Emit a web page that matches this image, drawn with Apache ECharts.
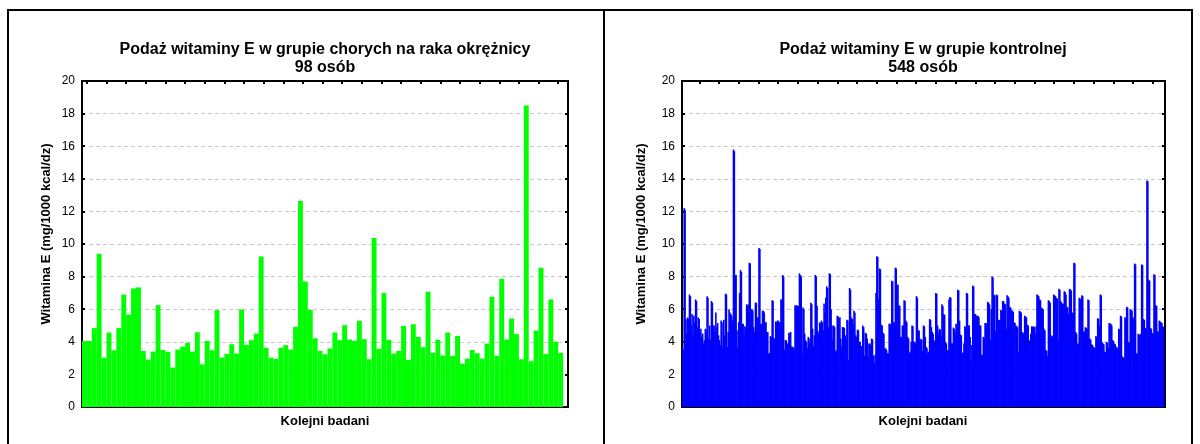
<!DOCTYPE html>
<html>
<head>
<meta charset="utf-8">
<script src="https://cdn.jsdelivr.net/npm/echarts/dist/echarts.min.js"></script>
<style>
  html, body { margin: 0; padding: 0; background: #fff; }
  #main { width: 1200px; height: 444px; }
</style>
</head>
<body>
<div id="main"></div>
<script>
// ---------- DATA ----------
const leftTitle = 'Podaż witaminy E w grupie chorych na raka okrężnicy';
const leftSubtitle = '98 osób';
const rightTitle = 'Podaż witaminy E w grupie kontrolnej';
const rightSubtitle = '548 osób';
const yAxisName = 'Witamina E (mg/1000 kcal/dz)';
const xAxisName = 'Kolejni badani';
const yTicks = [0, 2, 4, 6, 8, 10, 12, 14, 16, 18, 20];

// Cancer group (98 subjects)
const leftValues = [
  4.05,4.05,4.84,9.4,3.03,4.57,3.48,4.84,6.9,5.68,7.27,7.34,3.44,2.91,3.4,6.25,3.5,3.38,2.42,3.52,
  3.7,3.93,3.4,4.59,2.62,4.06,3.48,5.94,3.03,3.26,3.85,3.28,5.98,3.81,4.1,4.5,9.24,3.63,3.03,2.95,
  3.63,3.79,3.52,4.92,12.64,7.7,5.96,4.22,3.44,3.24,3.59,4.57,4.1,5.02,4.14,4.06,5.29,4.16,2.93,10.37,
  3.57,6.99,4.12,3.28,3.44,4.98,2.89,5.08,4.3,3.67,7.07,3.32,4.12,3.16,4.57,3.14,4.36,2.66,2.97,3.5,
  3.3,2.97,3.89,6.76,3.14,7.87,4.14,5.43,4.47,2.93,18.5,2.81,4.69,8.55,3.26,6.6,4.0,3.32
];

// Control group (548 subjects)
const rightValues = [
  3.6,3.5,12.2,12.1,5.4,4.5,5.5,5.4,6.9,6.8,
  5.0,5.7,4.4,5.6,5.2,6.6,6.5,4.9,5.5,5.4,
  4.6,4.8,4.3,4.5,3.9,4.1,4.8,4.7,6.8,6.7,
  4.2,5.0,4.1,6.5,6.4,5.0,5.0,4.6,5.8,4.9,
  5.15,4.4,4.1,3.8,5.3,5.2,3.7,5.35,4.4,6.95,
  6.9,3.7,4.6,6.0,5.8,5.7,5.6,5.3,15.8,15.7,
  8.1,8.1,4.7,3.6,5.2,7.0,8.4,8.3,5.1,5.1,
  4.5,4.95,4.9,6.3,6.2,6.3,8.85,8.8,6.0,6.0,
  5.9,4.9,4.6,6.4,6.4,5.5,5.5,9.75,9.7,5.1,
  5.1,5.9,5.9,5.8,5.2,5.2,4.6,4.6,3.3,3.3,
  4.35,4.3,6.55,6.5,4.2,4.2,5.25,5.2,5.3,5.3,
  5.2,5.2,6.6,6.6,8.1,8.0,3.5,4.1,4.1,3.9,
  3.9,4.55,4.5,4.6,3.7,3.7,3.65,3.6,6.25,6.2,
  6.25,6.2,6.2,8.2,8.1,8.0,3.3,6.1,6.0,4.5,
  4.1,4.0,3.6,4.3,4.2,3.9,6.4,6.3,4.8,3.75,
  4.4,8.1,8.0,6.2,4.65,4.5,5.2,5.1,5.3,5.2,
  4.7,6.35,5.8,6.7,7.4,7.3,4.9,8.2,8.15,6.0,
  5.0,4.1,5.0,4.9,3.4,3.5,5.6,5.55,5.4,5.5,
  4.2,3.7,4.9,4.9,4.85,4.4,4.2,5.35,5.3,2.9,
  7.3,7.2,5.5,5.4,5.1,5.9,5.8,4.4,4.3,4.75,
  4.7,4.0,4.0,3.75,3.75,5.0,4.9,3.15,4.55,4.5,
  4.2,3.05,3.9,3.9,3.8,4.2,4.15,3.15,2.7,3.2,
  7.0,9.25,9.2,6.6,8.5,8.45,5.05,5.0,4.55,4.5,
  3.6,3.6,3.5,3.3,3.3,5.1,5.1,5.0,7.75,7.7,
  5.2,5.2,8.55,8.5,7.5,7.5,6.25,6.2,4.3,4.3,
  5.0,5.0,6.55,6.5,5.3,5.2,4.3,4.2,3.3,3.4,
  4.0,5.0,4.95,4.0,4.0,3.9,6.8,6.7,4.7,4.7,
  4.2,4.1,4.15,3.45,5.0,4.95,4.3,3.7,3.6,3.3,
  3.4,5.4,5.35,4.9,4.6,4.5,4.1,4.0,7.0,6.95,
  5.0,4.55,4.8,4.75,4.3,6.3,6.2,5.7,5.65,4.0,
  3.9,3.45,3.5,6.6,6.75,6.7,3.9,3.9,4.87,4.8,
  4.6,5.1,5.0,7.2,7.15,5.3,4.45,4.4,3.3,3.35,
  3.9,4.95,4.9,7.0,6.95,5.0,5.0,4.3,2.85,3.8,
  7.45,7.4,5.7,5.7,5.6,5.6,5.6,5.5,5.0,5.0,
  3.2,3.2,4.3,4.25,5.15,5.15,5.1,6.45,6.4,6.3,
  4.1,6.0,8.0,7.95,6.9,6.85,4.65,6.9,6.85,5.35,
  5.3,5.35,5.95,5.9,6.5,6.5,6.35,6.3,4.8,6.85,
  6.8,6.7,6.15,6.1,5.95,5.9,5.85,5.2,5.15,5.0,
  4.95,4.9,3.4,5.9,5.85,5.8,4.6,4.55,4.5,5.6,
  5.55,5.5,5.05,5.0,4.1,4.05,4.5,4.95,4.9,4.95,
  4.9,4.5,4.95,6.9,6.85,6.8,6.6,6.55,6.1,6.05,
  6.0,4.8,4.7,3.5,3.45,3.15,6.55,6.5,6.4,4.4,
  4.35,4.3,6.9,6.85,6.8,6.7,6.65,4.1,7.25,7.2,
  6.5,6.4,6.35,6.3,7.1,7.05,6.9,6.15,6.1,5.7,
  7.25,7.2,7.15,5.8,5.75,8.85,8.8,4.6,4.5,3.9,
  3.85,6.7,6.65,6.6,6.85,6.8,4.65,4.6,4.9,4.85,
  4.8,6.6,6.55,4.2,4.15,3.85,3.8,3.7,3.65,3.6,
  4.35,4.3,5.45,5.4,5.0,6.9,6.85,3.95,3.9,3.85,
  3.4,3.35,4.0,3.95,3.6,5.15,5.1,5.1,5.0,4.1,
  4.05,3.9,3.85,3.7,3.65,3.6,4.8,4.75,5.6,5.55,
  3.1,3.05,3.0,5.5,5.45,6.15,6.1,4.0,3.95,6.0,
  5.95,5.9,5.5,5.45,8.8,8.75,3.3,3.25,4.5,4.45,
  4.4,4.5,8.75,8.7,5.4,5.35,4.85,4.8,13.9,13.85,
  7.8,7.75,4.85,4.8,4.55,4.5,8.15,8.1,6.25,6.2,
  4.65,4.6,5.3,5.25,5.2,5.15,4.95,4.9
];

// category slots (one spare slot at the end of each axis, as in the original)
const leftCategories = leftValues.map((v, i) => String(i + 1)).concat(['']);
const rightCategories = rightValues.map((v, i) => String(i + 1)).concat(['']);
// top frame tick slots
const leftTopSlots = leftCategories.slice();
const rightTopSlots = Array.from({length: 196}, (_, i) => String(i));

// ---------- CHART ----------
const FONT = 'Arial, "Liberation Sans", sans-serif';
const chart = echarts.init(document.getElementById('main'), null, {renderer: 'canvas'});

const G = [
  {left: 82, top: 81, width: 486, height: 326},
  {left: 682, top: 81, width: 483, height: 326}
];

function yPair(gi) {
  const base = {
    gridIndex: gi, type: 'value',
    min: yTicks[0], max: yTicks[yTicks.length - 1], interval: yTicks[1] - yTicks[0],
    axisLine: {show: true, onZero: false, lineStyle: {color: '#000', width: 2}},
    axisTick: {show: true, inside: true, length: 3, lineStyle: {color: '#000', width: 2}}
  };
  return [
    Object.assign({}, base, {
      position: 'left',
      axisLabel: {show: true, color: '#000', fontSize: 12, fontFamily: FONT, margin: 7},
      splitLine: {show: true, lineStyle: {color: '#c8c8c8', width: 1, type: [4, 3]}}
    }),
    Object.assign({}, base, {
      position: 'right',
      axisLabel: {show: false},
      splitLine: {show: false}
    })
  ];
}

function xPair(gi, cats, topSlots, tickFn) {
  return [
    {
      gridIndex: gi, type: 'category', data: cats, position: 'bottom', boundaryGap: true,
      axisLine: {show: true, onZero: false, lineStyle: {color: '#000', width: 2}},
      axisTick: {show: false}, axisLabel: {show: false}, splitLine: {show: false}
    },
    {
      gridIndex: gi, type: 'category', data: topSlots, position: 'top', boundaryGap: true,
      axisLine: {show: true, onZero: false, lineStyle: {color: '#000', width: 2}},
      axisTick: {show: true, inside: true, length: 3, interval: tickFn, lineStyle: {color: '#000', width: 2}},
      axisLabel: {show: false}, splitLine: {show: false}
    }
  ];
}

const titleStyle = {fontSize: 16, fontWeight: 'bold', fontFamily: FONT, color: '#000', lineHeight: 18};
const nameFont = 'bold 13px ' + FONT;

const option = {
  animation: false,
  backgroundColor: '#fff',
  title: [
    {text: leftTitle + '\n' + leftSubtitle, left: 325, top: 41, padding: 0, textAlign: 'center', textStyle: titleStyle},
    {text: rightTitle + '\n' + rightSubtitle, left: 923, top: 41, padding: 0, textAlign: 'center', textStyle: titleStyle}
  ],
  grid: G,
  xAxis: [].concat(
    xPair(0, leftCategories, leftTopSlots, (i) => i % 4 === 1),
    xPair(1, rightCategories, rightTopSlots, (i) => i % 8 === 7)
  ),
  yAxis: [].concat(yPair(0), yPair(1)),
  series: [
    {type: 'bar', xAxisIndex: 0, yAxisIndex: 0, data: leftValues, barCategoryGap: '0%',
     itemStyle: {color: '#00ff00'}, silent: true},
    {type: 'bar', xAxisIndex: 2, yAxisIndex: 2, data: rightValues, barWidth: 1.6,
     itemStyle: {color: '#0000ff'}, silent: true, large: false}
  ],
  graphic: [
    {type: 'rect', silent: true, shape: {x: 8, y: 10, width: 1184, height: 450},
     style: {fill: 'none', stroke: '#000', lineWidth: 2}},
    {type: 'line', silent: true, shape: {x1: 604, y1: 10, x2: 604, y2: 444},
     style: {stroke: '#000', lineWidth: 2}},
    {type: 'text', silent: true, x: 46, y: 234, rotation: Math.PI / 2,
     style: {text: yAxisName, font: nameFont, align: 'center', verticalAlign: 'middle', fill: '#000'}},
    {type: 'text', silent: true, x: 641, y: 234, rotation: Math.PI / 2,
     style: {text: yAxisName, font: nameFont, align: 'center', verticalAlign: 'middle', fill: '#000'}},
    {type: 'text', silent: true, x: 325, y: 421,
     style: {text: xAxisName, font: nameFont, align: 'center', verticalAlign: 'middle', fill: '#000'}},
    {type: 'text', silent: true, x: 923, y: 421,
     style: {text: xAxisName, font: nameFont, align: 'center', verticalAlign: 'middle', fill: '#000'}}
  ]
};
chart.setOption(option);
</script>
</body>
</html>
